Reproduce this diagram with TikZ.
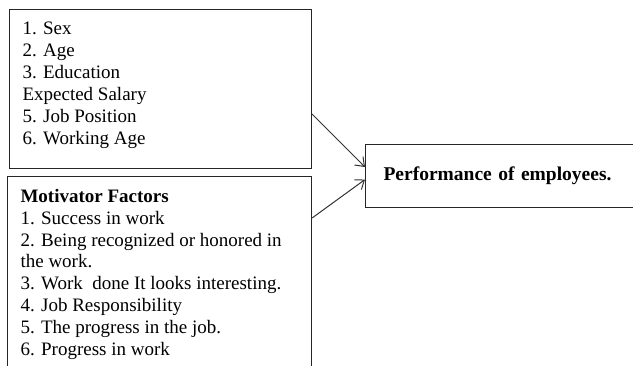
\documentclass[tikz,border=0pt]{standalone}
\usepackage{fontspec}
\setmainfont{Liberation Serif}
\usetikzlibrary{arrows.meta}

\begin{document}
\begin{tikzpicture}[x=1pt, y=1pt]
        % Define styles
        \tikzset{
            factorbox/.style={rectangle, draw=black!85, line width=1.1pt, anchor=north west, inner xsep=13pt, inner ysep=0pt, font=\fontsize{19}{21.9}\selectfont},
            resultbox/.style={rectangle, draw=black!85, line width=1.1pt, anchor=north west, minimum height=63pt, text width=245pt, align=left, inner xsep=18pt, font=\fontsize{19.5}{21.9}\selectfont\bfseries},
            arrow/.style={->, >={Straight Barb[length=8pt, width=12pt]}, draw=black!80, line width=1pt}
        }
        \clip (0,0) rectangle (633,-366);

        % Nodes
        \node[factorbox] (personal) at (9,-9) {\parbox[c][159pt][t]{276pt}{\vspace*{12.5pt}1. Sex\\ 2. Age\\ 3. Education\\ Expected Salary\\ 5. Job Position\\ 6. Working Age}};
        \node[factorbox] (motivator) at (7,-176) {\parbox[c][220pt][t]{278pt}{\vspace*{12.5pt}\textbf{Motivator Factors}\\ 1. Success in work\\ 2. Being recognized or honored in\\ the work.\\ 3. Work\ \ done It looks interesting.\\ 4. Job Responsibility\\ 5. The progress in the job.\\ 6. Progress in work}};
        \node[resultbox] (performance) at (365,-144) {Performance of employees.};

        % Arrows
        \draw[arrow] ([yshift=55pt]personal.south east) -- ([yshift=9pt]performance.west);
        \draw[arrow] ([yshift=-42pt]motivator.north east) -- ([yshift=-3.5pt]performance.west);
\end{tikzpicture}
\end{document}
